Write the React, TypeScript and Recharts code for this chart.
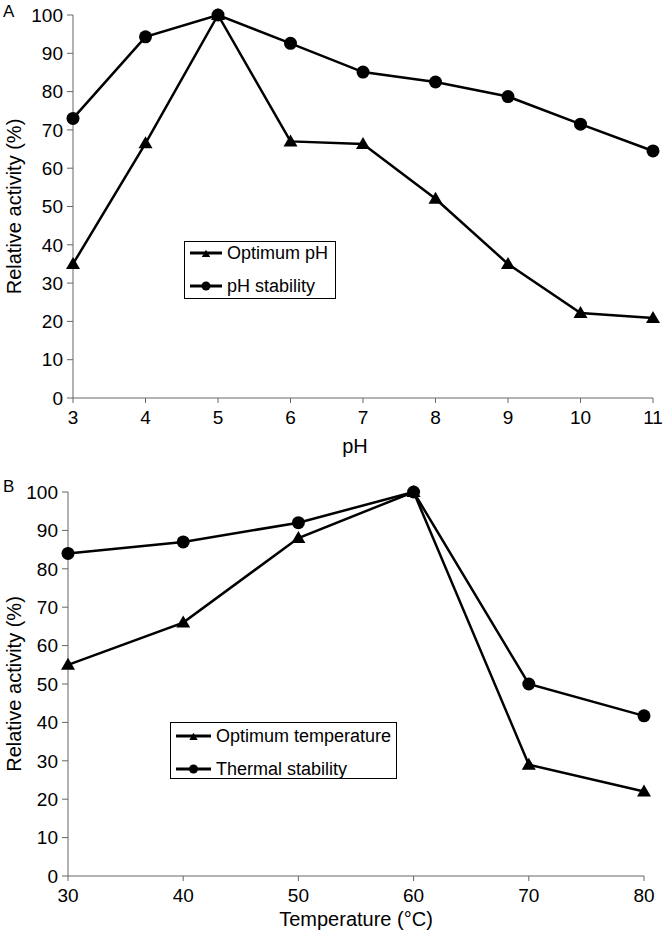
import React from 'react';
import { LineChart, Line, XAxis, YAxis, Legend } from 'recharts';

// panel A: pH
const phValues = [3, 4, 5, 6, 7, 8, 9, 10, 11];
const optimumPh = [35, 66.5, 100, 67, 66.3, 52, 35, 22.2, 20.9];
const phStability = [73, 94.3, 100, 92.6, 85.1, 82.5, 78.7, 71.5, 64.5];

// panel B: temperature
const tempValues = [30, 40, 50, 60, 70, 80];
const optimumTemp = [55, 66, 88, 100, 29, 22];
const thermalStability = [84, 87, 92, 100, 50, 41.7];

const activityTicks = [0, 10, 20, 30, 40, 50, 60, 70, 80, 90, 100];

const FONT = '"Liberation Sans", Arial, Helvetica, sans-serif';
const AXIS = '#666';

const phData = phValues.map((x, i) => ({ x, opt: optimumPh[i], stab: phStability[i] }));
const tempData = tempValues.map((x, i) => ({ x, opt: optimumTemp[i], stab: thermalStability[i] }));

const Triangle = ({ cx, cy, s = 1 }: any) => (
  <polygon
    points={`${cx},${cy - 7 * s} ${cx - 7 * s},${cy + 5 * s} ${cx + 7 * s},${cy + 5 * s}`}
    fill="#000"
  />
);

const Dot = ({ cx, cy, r = 6.5 }: any) => <circle cx={cx} cy={cy} r={r} fill="#000" />;

const triDot = (p: any) => <Triangle key={`t-${p.index}`} cx={p.cx} cy={p.cy} />;
const circDot = (p: any) => <Dot key={`c-${p.index}`} cx={p.cx} cy={p.cy} />;

const yLabel = (props: any) => {
  const vb = props.viewBox || {};
  const cx = (vb.x || 0) + 14;
  const cy = vb.y + vb.height / 2;
  return (
    <text
      x={cx}
      y={cy}
      transform={`rotate(-90, ${cx}, ${cy})`}
      textAnchor="middle"
      dominantBaseline="central"
      fontSize={20}
      fontFamily={FONT}
      fill="#000"
    >
      Relative activity (%)
    </text>
  );
};

const makeLegend = (padTop: number, lineW: number) => (props: any) => {
  const items = props.payload || [];
  return (
    <div
      style={{
        boxSizing: 'border-box',
        width: '100%',
        height: '100%',
        border: '1.5px solid #000',
        background: '#fff',
        paddingTop: padTop,
        paddingLeft: 5,
        fontFamily: FONT,
        fontSize: 18,
        color: '#000',
      }}
    >
      {items.map((it: any, i: number) => (
        <div key={i} style={{ display: 'flex', alignItems: 'center', height: 22, marginBottom: 11 }}>
          <svg width={lineW} height={14} style={{ marginRight: 5 }}>
            <line x1={0} y1={7} x2={lineW} y2={7} stroke="#000" strokeWidth={3} />
            {it.dataKey === 'opt' ? (
              <Triangle cx={lineW / 2} cy={8} s={0.6} />
            ) : (
              <Dot cx={lineW / 2} cy={7} r={4.5} />
            )}
          </svg>
          <span style={{ lineHeight: '22px', whiteSpace: 'nowrap' }}>{it.value}</span>
        </div>
      ))}
    </div>
  );
};

const tickStyle = { fill: '#000', fontSize: 19, fontFamily: FONT };

export default function App() {
  return (
    <div style={{ position: 'absolute', left: 0, top: 0, width: 665, height: 932, background: '#fff' }}>
      <div style={{ position: 'absolute', left: 3, top: 3, fontSize: 17, lineHeight: '17px', fontFamily: FONT }}>A</div>
      <div style={{ position: 'absolute', left: 3, top: 478, fontSize: 17, lineHeight: '17px', fontFamily: FONT }}>B</div>

      <div style={{ position: 'absolute', left: 0, top: 0 }}>
        <LineChart width={665} height={460} data={phData} margin={{ top: 15, right: 12, bottom: 0, left: 0 }}>
          <XAxis
            dataKey="x"
            type="number"
            domain={[3, 11]}
            ticks={phValues}
            height={62}
            stroke={AXIS}
            tickSize={5}
            tickMargin={8}
            tick={tickStyle}
            label={{ value: 'pH', position: 'insideBottom', offset: 7, dx: -8, style: { fontSize: 20, fontFamily: FONT, fill: '#000' } }}
          />
          <YAxis
            type="number"
            domain={[0, 100]}
            ticks={activityTicks}
            width={73}
            stroke={AXIS}
            tickSize={6}
            tickMargin={4}
            tick={tickStyle}
            label={{ content: yLabel }}
          />
          <Legend
            layout="vertical"
            align="center"
            verticalAlign="middle"
            content={makeLegend(0, 32)}
            wrapperStyle={{ left: 184, top: 241, width: 152, height: 58 }}
          />
          <Line name="Optimum pH" dataKey="opt" type="linear" stroke="#000" strokeWidth={2.5} dot={triDot} isAnimationActive={false} />
          <Line name="pH stability" dataKey="stab" type="linear" stroke="#000" strokeWidth={2.5} dot={circDot} isAnimationActive={false} />
        </LineChart>
      </div>

      <div style={{ position: 'absolute', left: 0, top: 460 }}>
        <LineChart width={665} height={472} data={tempData} margin={{ top: 32, right: 21, bottom: 0, left: 0 }}>
          <XAxis
            dataKey="x"
            type="number"
            domain={[30, 80]}
            ticks={tempValues}
            height={56}
            stroke={AXIS}
            tickSize={5}
            tickMargin={8}
            tick={tickStyle}
            label={{ value: 'Temperature (°C)', position: 'insideBottom', offset: 6, style: { fontSize: 20, fontFamily: FONT, fill: '#000' } }}
          />
          <YAxis
            type="number"
            domain={[0, 100]}
            ticks={activityTicks}
            width={68}
            stroke={AXIS}
            tickSize={6}
            tickMargin={4}
            tick={tickStyle}
            label={{ content: yLabel }}
          />
          <Legend
            layout="vertical"
            align="center"
            verticalAlign="middle"
            content={makeLegend(2, 35)}
            wrapperStyle={{ left: 170, top: 262, width: 227, height: 57 }}
          />
          <Line name="Optimum temperature" dataKey="opt" type="linear" stroke="#000" strokeWidth={2.5} dot={triDot} isAnimationActive={false} />
          <Line name="Thermal stability" dataKey="stab" type="linear" stroke="#000" strokeWidth={2.5} dot={circDot} isAnimationActive={false} />
        </LineChart>
      </div>
    </div>
  );
}
